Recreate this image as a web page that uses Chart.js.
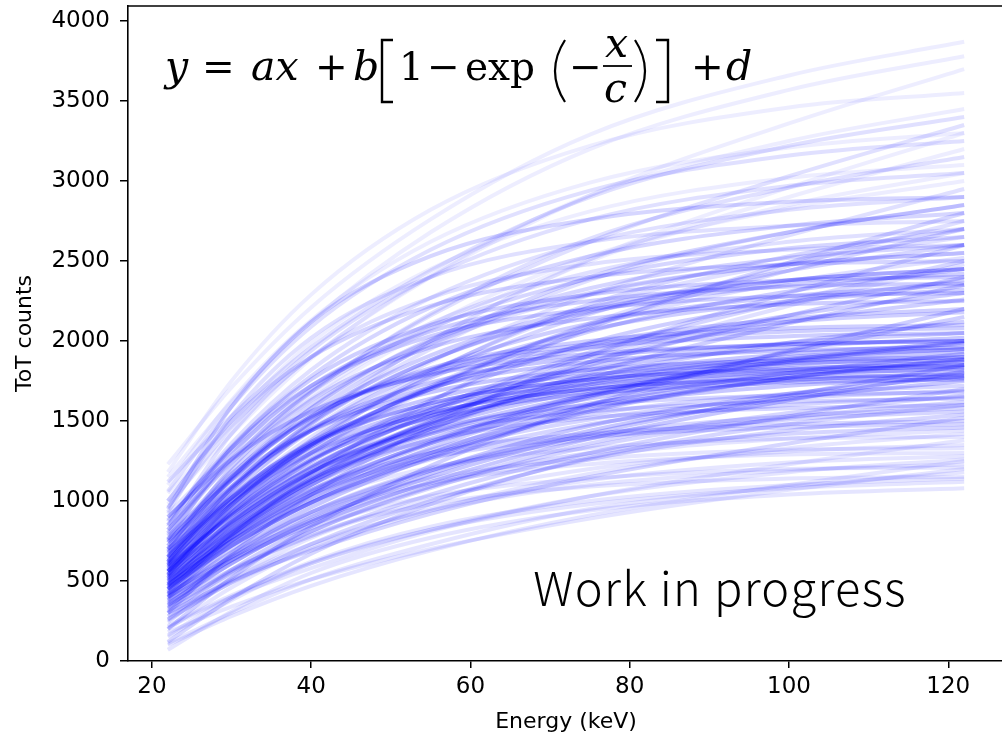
<!DOCTYPE html>
<html>
<head>
<meta charset="utf-8">
<script src="https://cdn.jsdelivr.net/npm/chart.js@4/dist/chart.umd.min.js"></script>
<style>
  html, body { margin: 0; padding: 0; background: #fff; overflow: hidden; }
  #wrap { width: 1004px; height: 735px; }
</style>
</head>
<body>
<div id="wrap"><canvas id="tot" width="1004" height="735"></canvas></div>
<script>
const energy = [22, 30, 40, 55, 75, 100, 122]

// ToT counts per curve, grouped by where the curve ends up at 122 keV
const topCurves = [
    [1230, 1710, 2210, 2760, 3290, 3660, 3870],
    [1150, 1620, 2120, 2680, 3200, 3570, 3780],
    [1050, 1470, 1900, 2400, 2910, 3360, 3700],
    [1180, 1750, 2290, 2820, 3220, 3460, 3550],
    [980, 1420, 1890, 2410, 2910, 3250, 3450],
    [1100, 1630, 2130, 2620, 2990, 3210, 3300],
    [650, 1070, 1500, 2000, 2510, 2960, 3300],
    [900, 1270, 1640, 2070, 2510, 2900, 3200],
    [1000, 1500, 1990, 2450, 2810, 3020, 3100],
    [550, 1000, 1480, 2000, 2500, 2850, 3050],
    [850, 1240, 1650, 2100, 2530, 2830, 3000]
]
const highCurves = [
    [1120, 1530, 1960, 2440, 2900, 3220, 3400],
    [920, 1310, 1700, 2160, 2620, 3030, 3350],
    [1060, 1590, 2090, 2570, 2940, 3160, 3250],
    [820, 1240, 1680, 2170, 2640, 2960, 3150],
    [960, 1460, 1940, 2400, 2760, 2970, 3050],
    [740, 1090, 1450, 1870, 2290, 2660, 2950],
    [870, 1360, 1820, 2270, 2620, 2820, 2900],
    [700, 1090, 1500, 1950, 2380, 2680, 2850],
    [930, 1530, 2020, 2400, 2620, 2720, 2750],
    [610, 950, 1300, 1700, 2110, 2470, 2750],
    [790, 1250, 1690, 2110, 2430, 2620, 2700],
    [660, 1020, 1400, 1810, 2210, 2490, 2650],
    [840, 1420, 1900, 2270, 2480, 2570, 2600],
    [720, 1160, 1580, 1980, 2290, 2480, 2550],
    [580, 930, 1300, 1710, 2090, 2370, 2520],
    [450, 780, 1100, 1490, 1870, 2220, 2480]
]
const upperCurves = [
    [950, 1590, 2120, 2530, 2760, 2870, 2900],
    [780, 1150, 1550, 1980, 2400, 2680, 2850],
    [880, 1340, 1780, 2210, 2530, 2720, 2800],
    [400, 780, 1170, 1620, 2080, 2490, 2800],
    [700, 1020, 1340, 1720, 2100, 2440, 2700],
    [560, 950, 1350, 1800, 2230, 2530, 2700],
    [820, 1260, 1680, 2080, 2390, 2580, 2650],
    [650, 1000, 1370, 1780, 2170, 2440, 2600],
    [680, 1140, 1580, 2010, 2330, 2520, 2600],
    [300, 670, 1040, 1470, 1910, 2300, 2600],
    [760, 1190, 1600, 2000, 2300, 2480, 2550],
    [600, 900, 1210, 1570, 1930, 2250, 2500],
    [1000, 1500, 1900, 2220, 2400, 2480, 2500]
]
const middleCurves = [
    [720, 1140, 1530, 1910, 2210, 2380, 2450],
    [680, 1000, 1340, 1710, 2060, 2310, 2450],
    [620, 1060, 1480, 1880, 2190, 2380, 2450],
    [670, 1090, 1490, 1880, 2180, 2350, 2420],
    [560, 850, 1150, 1500, 1850, 2160, 2400],
    [800, 1330, 1760, 2100, 2290, 2380, 2400],
    [590, 910, 1250, 1630, 1990, 2240, 2380],
    [760, 1290, 1720, 2060, 2250, 2340, 2360],
    [640, 1050, 1440, 1820, 2110, 2280, 2350],
    [510, 800, 1100, 1450, 1800, 2110, 2350],
    [540, 970, 1380, 1770, 2070, 2250, 2320],
    [520, 840, 1180, 1550, 1910, 2160, 2300],
    [850, 1330, 1720, 2030, 2200, 2280, 2300],
    [470, 790, 1130, 1510, 1870, 2120, 2260],
    [700, 1210, 1630, 1960, 2140, 2230, 2250],
    [600, 980, 1350, 1700, 1980, 2140, 2200],
    [200, 520, 840, 1220, 1600, 1940, 2200],
    [620, 990, 1350, 1700, 1960, 2120, 2180],
    [480, 750, 1010, 1330, 1650, 1930, 2150],
    [530, 820, 1120, 1450, 1770, 1990, 2120],
    [650, 1130, 1520, 1830, 2000, 2080, 2100],
    [690, 1150, 1520, 1820, 1980, 2060, 2080],
    [560, 920, 1260, 1590, 1840, 1990, 2050],
    [740, 1170, 1530, 1800, 1960, 2030, 2050]
]
const coreCurves = [
    [570, 920, 1250, 1570, 1820, 1960, 2020],
    [500, 770, 1060, 1370, 1670, 1880, 2000],
    [620, 1080, 1450, 1740, 1900, 1980, 2000],
    [900, 1260, 1560, 1790, 1920, 1980, 2000],
    [480, 750, 1040, 1360, 1660, 1870, 1990],
    [530, 880, 1210, 1530, 1780, 1920, 1980],
    [650, 1080, 1440, 1710, 1870, 1940, 1960],
    [580, 910, 1220, 1530, 1760, 1900, 1950],
    [430, 800, 1140, 1480, 1740, 1890, 1950],
    [510, 850, 1180, 1490, 1730, 1870, 1930],
    [450, 720, 990, 1300, 1600, 1800, 1920],
    [540, 870, 1180, 1480, 1710, 1850, 1900],
    [750, 1130, 1440, 1680, 1820, 1880, 1900],
    [410, 680, 960, 1270, 1560, 1770, 1890],
    [600, 1020, 1370, 1640, 1790, 1860, 1880],
    [460, 720, 990, 1280, 1570, 1770, 1880],
    [560, 870, 1180, 1460, 1690, 1820, 1870],
    [500, 820, 1130, 1430, 1660, 1800, 1850],
    [420, 650, 880, 1150, 1420, 1660, 1850],
    [610, 1020, 1350, 1610, 1760, 1830, 1850],
    [630, 1030, 1360, 1610, 1760, 1820, 1840],
    [490, 810, 1120, 1420, 1640, 1780, 1830],
    [560, 980, 1320, 1580, 1730, 1800, 1820],
    [400, 630, 850, 1120, 1390, 1630, 1810],
    [470, 790, 1100, 1390, 1610, 1750, 1800],
    [540, 950, 1290, 1550, 1700, 1770, 1790],
    [380, 630, 900, 1190, 1470, 1670, 1780],
    [590, 980, 1300, 1550, 1700, 1760, 1780],
    [450, 770, 1070, 1360, 1590, 1720, 1770],
    [520, 930, 1260, 1520, 1670, 1740, 1760],
    [360, 610, 870, 1170, 1440, 1640, 1750]
]
const lowerCurves = [
    [440, 750, 1040, 1320, 1540, 1670, 1720],
    [350, 570, 780, 1040, 1300, 1530, 1700],
    [420, 730, 1020, 1300, 1510, 1640, 1690],
    [480, 880, 1200, 1450, 1600, 1660, 1680],
    [310, 550, 810, 1090, 1360, 1550, 1660],
    [400, 700, 990, 1260, 1480, 1600, 1650],
    [470, 860, 1170, 1420, 1560, 1620, 1640],
    [330, 560, 810, 1080, 1340, 1520, 1620],
    [450, 830, 1140, 1380, 1520, 1580, 1600],
    [120, 390, 670, 980, 1270, 1480, 1600],
    [350, 650, 930, 1200, 1410, 1530, 1580],
    [370, 660, 930, 1190, 1390, 1510, 1560],
    [260, 490, 730, 1000, 1260, 1440, 1540],
    [300, 500, 690, 920, 1150, 1360, 1520],
    [420, 780, 1070, 1300, 1420, 1480, 1500],
    [390, 750, 1040, 1270, 1400, 1460, 1480],
    [340, 610, 870, 1110, 1300, 1420, 1460]
]
const bottomCurves = [
    [300, 570, 840, 1090, 1280, 1390, 1440],
    [280, 490, 700, 940, 1170, 1330, 1420],
    [380, 720, 990, 1210, 1330, 1390, 1400],
    [210, 400, 580, 810, 1030, 1230, 1380],
    [250, 510, 770, 1010, 1200, 1310, 1350],
    [330, 660, 930, 1140, 1260, 1320, 1330],
    [320, 640, 910, 1110, 1230, 1290, 1300],
    [200, 460, 710, 950, 1130, 1240, 1280],
    [220, 410, 610, 820, 1030, 1180, 1260],
    [100, 280, 470, 690, 910, 1100, 1250],
    [280, 510, 730, 940, 1100, 1190, 1230],
    [260, 570, 830, 1030, 1140, 1200, 1210],
    [180, 340, 510, 700, 890, 1070, 1200],
    [110, 300, 510, 730, 950, 1090, 1180],
    [240, 540, 790, 980, 1090, 1140, 1150],
    [160, 400, 620, 840, 1000, 1100, 1140],
    [150, 380, 610, 820, 980, 1080, 1120],
    [70, 310, 550, 770, 940, 1040, 1080]
]

const xTicks = [20, 40, 60, 80, 100, 120]
const yTicks = [0, 500, 1000, 1500, 2000, 2500, 3000, 3500, 4000]

// the real plot has hundreds of faint curves, so denser groups get a stronger blue
const groups = [
    [topCurves, 0.07],
    [highCurves, 0.12],
    [upperCurves, 0.16],
    [middleCurves, 0.19],
    [coreCurves, 0.22],
    [lowerCurves, 0.16],
    [bottomCurves, 0.1]
]

const datasets = []
groups.forEach(([curves, alpha]) => {
    curves.forEach(vals => {
        datasets.push({
            data: vals.map((v, i) => ({x: energy[i], y: v})),
            borderColor: 'rgba(0,0,255,' + alpha + ')',
            borderWidth: 4,
            pointRadius: 0,
            fill: false,
            cubicInterpolationMode: 'monotone'
        })
    })
})

// top spine, formula and the "Work in progress" stamp
const decorations = {
    id: 'decorations',
    afterDraw(chart) {
        const ctx = chart.ctx
        const a = chart.chartArea
        ctx.save()
        ctx.strokeStyle = '#000'
        ctx.lineWidth = 1.6
        ctx.beginPath()
        ctx.moveTo(a.left, a.top)
        ctx.lineTo(a.right, a.top)
        ctx.stroke()

        ctx.fillStyle = '#000'
        ctx.textBaseline = 'alphabetic'
        const ox = a.left + 37
        const base = a.top + 74
        const it = 'italic 41px "DejaVu Serif"'
        const up = '39px "DejaVu Serif"'
        const put = (t, font, dx, dy) => {
            ctx.font = font
            ctx.fillText(t, ox + dx, base + (dy || 0))
        }
        put('y', it, 0)
        put('=', up, 37)
        put('ax', it, 86)
        put('+', up, 150)
        put('b', it, 188)
        // square bracket [
        ctx.lineWidth = 2.4
        ctx.beginPath()
        ctx.moveTo(ox + 228, base - 40)
        ctx.lineTo(ox + 217, base - 40)
        ctx.lineTo(ox + 217, base + 22)
        ctx.lineTo(ox + 228, base + 22)
        ctx.stroke()
        put('1', up, 234)
        put('\u2212', up, 262)
        put('exp', up, 300)
        // (
        ctx.lineWidth = 2.2
        ctx.beginPath()
        ctx.moveTo(ox + 400, base - 40)
        ctx.quadraticCurveTo(ox + 380, base - 9, ox + 400, base + 22)
        ctx.stroke()
        put('\u2212', up, 404)
        // fraction x / c
        put('x', it, 440, -23)
        ctx.lineWidth = 1.8
        ctx.beginPath()
        ctx.moveTo(ox + 438, base - 14)
        ctx.lineTo(ox + 467, base - 14)
        ctx.stroke()
        put('c', it, 439, 22)
        // )
        ctx.lineWidth = 2.2
        ctx.beginPath()
        ctx.moveTo(ox + 470, base - 40)
        ctx.quadraticCurveTo(ox + 490, base - 9, ox + 470, base + 22)
        ctx.stroke()
        // ]
        ctx.lineWidth = 2.4
        ctx.beginPath()
        ctx.moveTo(ox + 491, base - 40)
        ctx.lineTo(ox + 503, base - 40)
        ctx.lineTo(ox + 503, base + 22)
        ctx.lineTo(ox + 491, base + 22)
        ctx.stroke()
        put('+', up, 526)
        put('d', it, 561)

        ctx.font = '300 47px "Noto Sans CJK JP"'
        ctx.letterSpacing = '1.3px'
        ctx.textAlign = 'center'
        ctx.fillText('Work in progress', 720, 606)
        ctx.restore()
    }
}

const tickFont = { family: 'DejaVu Sans', size: 23 }

const ctx = document.getElementById('tot').getContext('2d')

new Chart(ctx, {
    type: 'line',
    data: { datasets: datasets },
    options: {
        responsive: false,
        animation: false,
        devicePixelRatio: 1,
        layout: { padding: { top: 6, right: 0, left: 0, bottom: 0 } },
        plugins: {
            legend: { display: false },
            tooltip: { enabled: false }
        },
        scales: {
            x: {
                type: 'linear',
                min: 17,
                max: 127,
                afterFit: s => { s.height = 74; s.paddingLeft = 0; s.paddingRight = 0 },
                afterBuildTicks: s => { s.ticks = xTicks.map(v => ({value: v})) },
                grid: { drawOnChartArea: false, color: '#000', lineWidth: 1.5, tickLength: 7 },
                border: { display: true, color: '#000', width: 1.6 },
                ticks: { color: '#000', padding: 5, maxRotation: 0, font: tickFont, callback: v => String(v) },
                title: {
                    display: true,
                    text: 'Energy (keV)',
                    color: '#000',
                    padding: { top: 0, bottom: 0 },
                    font: { family: 'DejaVu Sans', size: 22 }
                }
            },
            y: {
                min: 0,
                max: 4094,
                afterFit: s => { s.width = 128; s.paddingTop = 0; s.paddingBottom = 0 },
                afterBuildTicks: s => { s.ticks = yTicks.map(v => ({value: v})) },
                grid: { drawOnChartArea: false, color: '#000', lineWidth: 1.5, tickLength: 8 },
                border: { display: true, color: '#000', width: 1.6 },
                ticks: { color: '#000', padding: 10, font: tickFont, callback: v => String(v) },
                title: {
                    display: true,
                    text: 'ToT counts',
                    color: '#000',
                    padding: { top: 12, bottom: 0 },
                    font: { family: 'DejaVu Sans', size: 22 }
                }
            }
        }
    },
    plugins: [decorations]
});
</script>
</body>
</html>
